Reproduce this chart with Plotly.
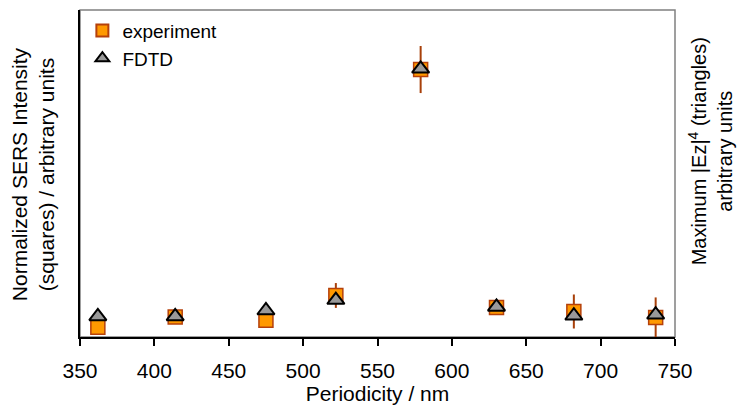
import plotly.graph_objects as go

# Periodicity of the arrays (nm)
periodicity = [362, 414, 475, 522, 579, 630, 682, 737]

# Normalized SERS intensity (squares) and its uncertainty, arbitrary units
sers_intensity = [3.0, 6.1, 5.1, 12.7, 81.8, 9.0, 7.8, 6.0]
sers_error = [0.8, 0.8, 1.2, 3.8, 7.2, 0.8, 5.2, 6.1]

# FDTD maximum |Ez|^4 (triangles), arbitrary units
fdtd_field = [6.3, 6.3, 8.1, 11.3, 82.0, 9.2, 6.5, 6.8]

x_ticks = [350, 400, 450, 500, 550, 600, 650, 700, 750]

FONT = "Liberation Sans, Arial, sans-serif"
FS = 21

fig = go.Figure()

fig.add_trace(go.Scatter(
    x=periodicity, y=sers_intensity, mode="markers", name="experiment",
    marker=dict(symbol="square", size=14, color="#FF9900",
                line=dict(color="#B5400B", width=1.5)),
    error_y=dict(type="data", array=sers_error, visible=True,
                 color="#A8400A", thickness=2, width=0),
    yaxis="y",
))

fig.add_trace(go.Scatter(
    x=periodicity, y=fdtd_field, mode="markers", name="FDTD",
    marker=dict(symbol="triangle-up", size=15, color="#999999",
                line=dict(color="#000000", width=2)),
    yaxis="y2",
))

fig.update_layout(
    width=738, height=412,
    margin=dict(l=80, r=63, t=10, b=73),
    paper_bgcolor="white", plot_bgcolor="white",
    font=dict(family=FONT, size=FS, color="#000000"),
    showlegend=True,
    legend=dict(x=0.004, y=0.995, xanchor="left", yanchor="top",
                bgcolor="rgba(0,0,0,0)", font=dict(size=19),
                itemsizing="constant", tracegroupgap=0),
    xaxis=dict(range=[350, 750], tickvals=x_ticks, ticks="outside",
               ticklen=7, tickwidth=1.5, tickcolor="#000000",
               ticklabelstandoff=7,
               showline=True, linecolor="#000000", linewidth=2,
               showgrid=False, zeroline=False,
               title=dict(text="Periodicity / nm", font=dict(size=FS), standoff=5)),
    yaxis=dict(range=[0, 100], showticklabels=False, ticks="",
               showline=True, linecolor="#000000", linewidth=2,
               showgrid=False, zeroline=False),
    yaxis2=dict(range=[0, 100], overlaying="y", side="right",
                showticklabels=False, ticks="", showline=False,
                showgrid=False, zeroline=False),
    shapes=[dict(type="rect", xref="paper", yref="paper", x0=0, x1=1, y0=0, y1=1,
                 line=dict(color="#808080", width=1.5), layer="below")],
    annotations=[
        dict(text="Normalized SERS Intensity<br>(squares) / arbitrary units",
             xref="paper", yref="paper", x=-0.079, y=0.498, textangle=-90,
             showarrow=False, font=dict(size=FS), xanchor="center", yanchor="middle"),
        dict(text="Maximum |Ez|<sup>4</sup> (triangles)<br>arbitrary units",
             xref="paper", yref="paper", x=1.059, y=0.568, textangle=-90,
             showarrow=False, font=dict(size=20), xanchor="center", yanchor="middle"),
    ],
)

fig.write_html("out.html")
